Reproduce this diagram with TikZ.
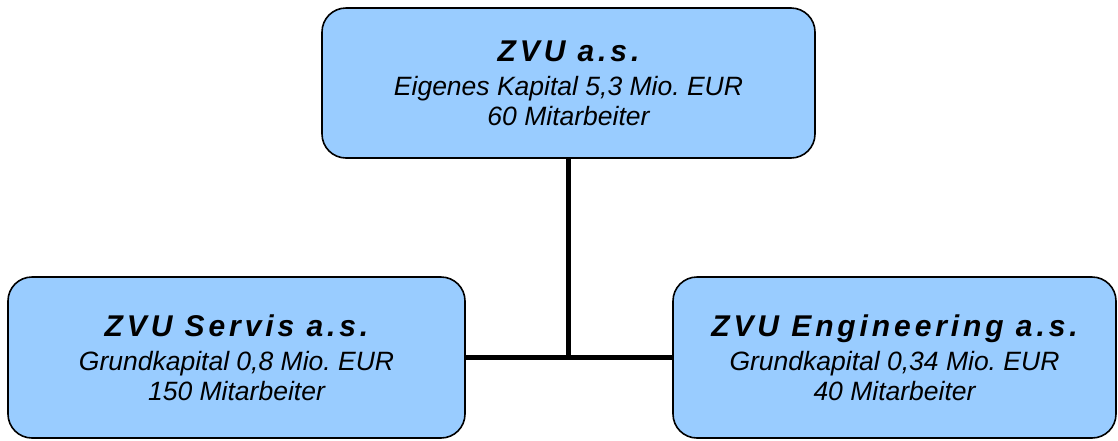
\documentclass[tikz,border=0pt]{standalone}
\usepackage{fontspec}
\setmainfont{Liberation Sans}
\newfontfamily\firmfont[LetterSpace=13]{Liberation Sans}
\usetikzlibrary{arrows}
\definecolor{boxblue}{HTML}{99CCFF}
\newcommand{\firm}[1]{{\firmfont\bfseries\itshape\fontsize{30}{30}\selectfont #1}\\[4pt]}
\frenchspacing
\begin{document}
\begin{tikzpicture}[x=1pt,y=-1pt]
\tikzstyle{every node}=[rounded corners=24pt, draw=black, line width=1.6pt, fill=boxblue, align=center, font=\itshape\fontsize{26.5}{30}\selectfont]
\useasboundingbox (0,0) rectangle (1118,440);
\draw (568.5,83) node (zvu) [minimum width=493pt, minimum height=150pt] {\firm{ZVU a.s.}Eigenes Kapital 5,3 Mio. EUR\\60 Mitarbeiter};
\draw (236.5,357.5) node (servis) [minimum width=457pt, minimum height=161pt] {\firm{ZVU Servis a.s.}Grundkapital 0,8 Mio. EUR\\150 Mitarbeiter};
\draw (894.5,357.5) node (engineering) [minimum width=443pt, minimum height=161pt] {\firm{ZVU Engineering a.s.}Grundkapital 0,34 Mio. EUR\\40 Mitarbeiter};
\coordinate (junction) at (zvu.south |- servis.east);
\draw [line width=5pt] (zvu.south) -- (junction);
\draw [line width=5pt] (servis.east) -- (engineering.west);
\end{tikzpicture}
\end{document}
